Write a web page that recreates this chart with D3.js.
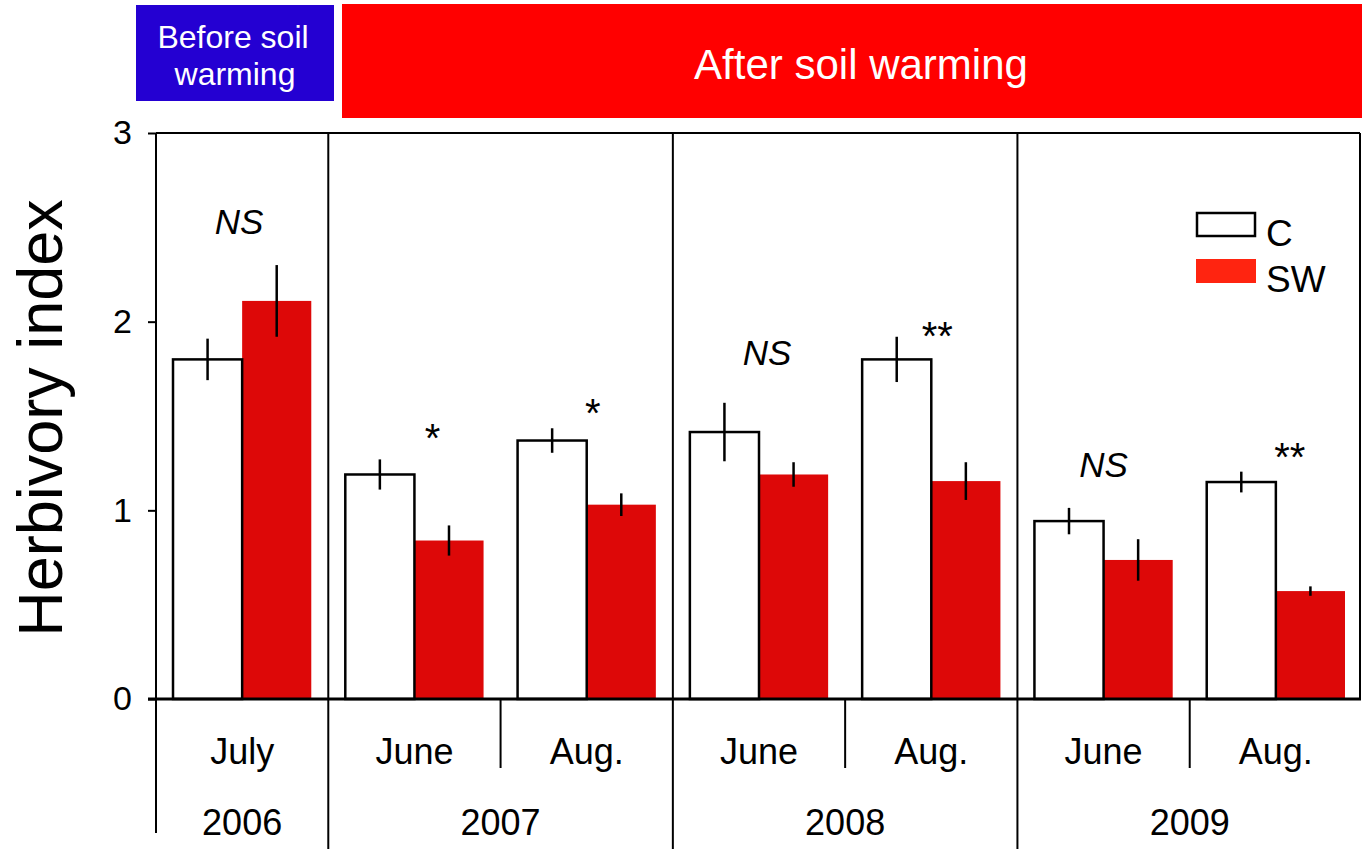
<!DOCTYPE html>
<html><head><meta charset="utf-8">
<script src="https://cdn.jsdelivr.net/npm/d3@7"></script>
<style>body{margin:0;background:#fff}text{font-family:"Liberation Sans",Arial,sans-serif}</style>
</head><body><svg id="c" width="1362" height="849"></svg>
<script>
// ---- data ----
const months = ["July","June","Aug.","June","Aug.","June","Aug."];
const years = ["2006","2007","2007","2008","2008","2009","2009"];
const yearLabels = ["2006","2007","2008","2009"];
const cValues  = [1.80, 1.19, 1.37, 1.415, 1.80, 0.943, 1.15];
const cErr     = [0.11, 0.08, 0.065, 0.155, 0.12, 0.07, 0.055];
const swValues = [2.11, 0.84, 1.03, 1.19, 1.155, 0.737, 0.572];
const swErr    = [0.19, 0.08, 0.06, 0.065, 0.10, 0.11, 0.025];
const sigLabels = ["NS","*","*","NS","**","NS","**"];
const sigY      = [2.464, 1.309, 1.441, 1.77, 1.849, 1.176, 1.208];
const yTicks = [0,1,2,3];
const seriesNames = ["C","SW"];

const svg = d3.select("#c");
const red = "#dd0808";
const x = d3.scaleBand().domain(d3.range(months.length)).range([156,1362]).padding(0);
const xs = d3.scaleBand().domain(seriesNames).range([0,x.bandwidth()]).paddingInner(0).paddingOuter(0.246);
const y = d3.scaleLinear().domain([0,3]).range([699,133]);

// banners
svg.append("rect").attr("x",136).attr("y",5).attr("width",198).attr("height",96).attr("fill","#2400d2");
svg.append("text").attr("x",233).attr("y",48).attr("text-anchor","middle").attr("fill","#fff").attr("font-size",32).text("Before soil");
svg.append("text").attr("x",235).attr("y",85).attr("text-anchor","middle").attr("fill","#fff").attr("font-size",32).text("warming");
svg.append("rect").attr("x",342).attr("y",4).attr("width",1020).attr("height",114).attr("fill","#ff0000");
svg.append("text").attr("x",861).attr("y",79).attr("text-anchor","middle").attr("fill","#fff").attr("font-size",42).text("After soil warming");

// bars
const sigDx = [-3, 18, 6, 8, 6, 0, 14];
const g = svg.append("g");
months.forEach((m,i)=>{
  const x0 = x(i);
  g.append("rect").attr("x",x0+xs("SW")).attr("y",y(swValues[i])).attr("width",xs.bandwidth()).attr("height",y(0)-y(swValues[i])).attr("fill",red);
  g.append("rect").attr("x",x0+xs("C")).attr("y",y(cValues[i])).attr("width",xs.bandwidth()).attr("height",y(0)-y(cValues[i])).attr("fill","#fff").attr("stroke","#000").attr("stroke-width",2.5);
  const cx = x0+xs("C")+xs.bandwidth()/2, sx = x0+xs("SW")+xs.bandwidth()/2;
  g.append("line").attr("x1",cx).attr("x2",cx).attr("y1",y(cValues[i]-cErr[i])).attr("y2",y(cValues[i]+cErr[i])).attr("stroke","#000").attr("stroke-width",2.5);
  g.append("line").attr("x1",sx).attr("x2",sx).attr("y1",y(swValues[i]-swErr[i])).attr("y2",y(swValues[i]+swErr[i])).attr("stroke","#000").attr("stroke-width",2.5);
  const lab = sigLabels[i];
  const tx = x0 + x.bandwidth()/2 + sigDx[i];
  g.append("text").attr("x",tx).attr("y",y(sigY[i])).attr("text-anchor","middle").attr("font-size",lab==="NS"?35:40)
    .attr("font-style",lab==="NS"?"italic":"normal").text(lab);
});

// frame
svg.append("line").attr("x1",156).attr("x2",1360).attr("y1",133).attr("y2",133).attr("stroke","#000").attr("stroke-width",2);
svg.append("line").attr("x1",1360).attr("x2",1360).attr("y1",133).attr("y2",700).attr("stroke","#000").attr("stroke-width",2);
svg.append("line").attr("x1",148).attr("x2",1361).attr("y1",699).attr("y2",699).attr("stroke","#000").attr("stroke-width",3);
svg.append("line").attr("x1",156).attr("x2",156).attr("y1",133).attr("y2",833).attr("stroke","#000").attr("stroke-width",2);

// y axis
const ya = svg.append("g").attr("transform","translate(156,0)").call(d3.axisLeft(y).tickValues(yTicks).tickSize(8).tickPadding(16).tickFormat(d3.format("d")));
ya.select(".domain").remove();
ya.selectAll("line").attr("stroke","#000").attr("stroke-width",2);
ya.selectAll("text").attr("font-size",34).attr("fill","#000").attr("font-family","Liberation Sans, Arial, sans-serif");
svg.append("text").attr("transform","translate(62,418) rotate(-90)").attr("text-anchor","middle").attr("font-size",63).text("Herbivory index");

// dividers
[1,3,5].forEach(i=>{
  svg.append("line").attr("x1",x(i)).attr("x2",x(i)).attr("y1",133).attr("y2",849).attr("stroke","#000").attr("stroke-width",2);
});
[2,4,6].forEach(i=>{
  svg.append("line").attr("x1",x(i)).attr("x2",x(i)).attr("y1",699).attr("y2",768).attr("stroke","#000").attr("stroke-width",2);
});
// month labels
months.forEach((m,i)=>{
  svg.append("text").attr("x",x(i)+x.bandwidth()/2).attr("y",764).attr("text-anchor","middle").attr("font-size",36).text(m);
});
// year labels
yearLabels.forEach(yl=>{
  const idx = years.map((v,i)=>v===yl?i:-1).filter(v=>v>=0);
  const x0 = x(idx[0]), x1 = x(idx[idx.length-1])+x.bandwidth();
  svg.append("text").attr("x",(x0+x1)/2).attr("y",835).attr("text-anchor","middle").attr("font-size",36).text(yl);
});

// legend
svg.append("rect").attr("x",1197).attr("y",213).attr("width",58).attr("height",23).attr("fill","#fff").attr("stroke","#000").attr("stroke-width",2.5);
svg.append("rect").attr("x",1196).attr("y",259).attr("width",60).attr("height",24).attr("fill","#ff2410");
svg.append("text").attr("x",1266).attr("y",246).attr("font-size",37).text(seriesNames[0]);
svg.append("text").attr("x",1266).attr("y",292).attr("font-size",37).text(seriesNames[1]);
</script></body></html>
